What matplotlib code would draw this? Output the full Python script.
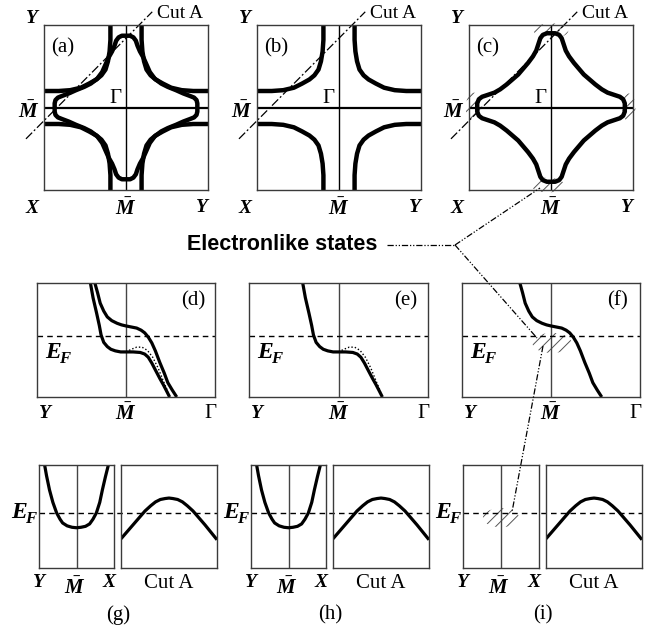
import numpy as np
import matplotlib
matplotlib.use('Agg')
import matplotlib.pyplot as plt
from matplotlib.patches import Ellipse

plt.rcParams['mathtext.fontset'] = 'custom'
plt.rcParams['mathtext.rm'] = 'Liberation Serif'
plt.rcParams['mathtext.it'] = 'Liberation Serif:italic'
plt.rcParams['mathtext.bf'] = 'Liberation Serif:bold:italic'
plt.rcParams['hatch.linewidth'] = 0.7

W, H = 664, 633

# ---------------- data ----------------
# Fermi surface "star", first quadrant from top tip to right tip (kx, ky)
star_a_x = [0.00, 0.05, 0.09, 0.12, 0.14, 0.17, 0.21, 0.25, 0.29, 0.35, 0.43, 0.51, 0.61, 0.70, 0.78, 0.83, 0.86, 0.87, 0.87]
star_a_y = [0.87, 0.87, 0.85, 0.81, 0.75, 0.68, 0.61, 0.52, 0.43, 0.35, 0.29, 0.25, 0.21, 0.17, 0.14, 0.12, 0.09, 0.05, 0.00]
star_c_x = [0.00, 0.05, 0.10, 0.13, 0.15, 0.18, 0.22, 0.28, 0.34, 0.40, 0.47, 0.54, 0.62, 0.69, 0.78, 0.84, 0.88, 0.90, 0.90]
star_c_y = [0.90, 0.90, 0.88, 0.84, 0.78, 0.69, 0.62, 0.54, 0.47, 0.40, 0.34, 0.28, 0.22, 0.18, 0.15, 0.13, 0.10, 0.05, 0.00]
# open "hyperbolic" Fermi-surface sheet, first quadrant
hyper_x = [0.19, 0.19, 0.20, 0.22, 0.25, 0.30, 0.36, 0.45, 0.55, 0.68, 0.82, 1.00]
hyper_y = [1.00, 0.82, 0.68, 0.56, 0.46, 0.39, 0.34, 0.29, 0.24, 0.21, 0.20, 0.20]
# Cut A in the Brillouin zone
cut_a_kx = [-1.22, 0.32]
cut_a_ky = [-0.38, 1.16]
# Y - M - Gamma dispersions (k, E) with E_F = 0
band_upper_k = [-0.35, -0.32, -0.29, -0.25, -0.21, -0.16, -0.10, -0.05, 0.00, 0.06, 0.12, 0.17, 0.21, 0.25, 0.29, 0.33, 0.38, 0.43, 0.47, 0.52, 0.57]
band_upper_e = [1.00, 0.82, 0.62, 0.47, 0.36, 0.29, 0.24, 0.21, 0.19, 0.17, 0.15, 0.11, 0.06, -0.02, -0.13, -0.28, -0.50, -0.70, -0.88, -1.02, -1.15]
band_lower_k = [-0.40, -0.37, -0.33, -0.30, -0.28, -0.25, -0.21, -0.17, -0.12, -0.06, 0.00, 0.08, 0.16, 0.21, 0.25, 0.29, 0.33, 0.38, 0.42, 0.46, 0.49]
band_lower_e = [1.00, 0.72, 0.43, 0.20, 0.02, -0.12, -0.20, -0.25, -0.28, -0.30, -0.30, -0.30, -0.31, -0.34, -0.40, -0.51, -0.64, -0.80, -0.92, -1.05, -1.15]
band_dot_k = [0.00, 0.06, 0.12, 0.18, 0.24, 0.30, 0.36, 0.42, 0.47]
band_dot_e = [-0.30, -0.25, -0.21, -0.21, -0.27, -0.40, -0.60, -0.85, -1.05]
# Y - M - X dispersion
ymx_k = [-0.85, -0.80, -0.72, -0.63, -0.53, -0.44, -0.37, -0.25, -0.12, 0.00, 0.12, 0.24, 0.35, 0.44, 0.53, 0.62, 0.69, 0.77, 0.85]
ymx_e = [1.00, 0.78, 0.48, 0.22, 0.00, -0.13, -0.21, -0.27, -0.30, -0.31, -0.30, -0.28, -0.23, -0.13, 0.00, 0.22, 0.48, 0.75, 1.00]
# Cut A dispersion
cut_k = [-1.00, -0.75, -0.50, -0.38, -0.28, -0.18, -0.08, 0.00, 0.08, 0.18, 0.28, 0.38, 0.50, 0.75, 1.00]
cut_e = [-0.54, -0.25, 0.04, 0.15, 0.23, 0.28, 0.30, 0.31, 0.30, 0.28, 0.23, 0.15, 0.04, -0.25, -0.56]

# ---------------- helpers ----------------
fig = plt.figure(figsize=(W / 100, H / 100), dpi=100)
fig.patch.set_facecolor('white')

FRAME = '#3a3a3a'
SERIF = 'Liberation Serif'


def px_axes(x0, y0, x1, y1, xlim=(-1, 1), ylim=(-1, 1)):
    ax = fig.add_axes([x0 / W, 1 - y1 / H, (x1 - x0) / W, (y1 - y0) / H])
    ax.set_xlim(*xlim)
    ax.set_ylim(*ylim)
    ax.set_xticks([])
    ax.set_yticks([])
    for s in ax.spines.values():
        s.set_color(FRAME)
        s.set_linewidth(1.0)
    ax.patch.set_alpha(0)
    return ax


def closed_star(qx, qy):
    qx = np.asarray(qx); qy = np.asarray(qy)
    x = np.concatenate([qx, qx[::-1], -qx, -qx[::-1]])
    y = np.concatenate([qy, -qy[::-1], -qy, qy[::-1]])
    return x, y


def hatch_patch(ax, cx, cy, w, h):
    e = Ellipse((cx, cy), w, h, fill=False, hatch='///', edgecolor='#555555',
                linewidth=0, clip_on=False)
    ax.add_patch(e)


THICK = dict(color='black', lw=3.2, solid_capstyle='butt', solid_joinstyle='round')
MID = dict(color='black', lw=2.3, solid_capstyle='butt', solid_joinstyle='round')
CUT_STYLE = dict(color='black', lw=0.9, ls=(0, (7, 2, 1.5, 2)), clip_on=False)

# overlay axes in pixel coordinates for labels and connectors
ov = fig.add_axes([0, 0, 1, 1], zorder=10)
ov.set_xlim(0, W)
ov.set_ylim(H, 0)
ov.axis('off')
ov.patch.set_alpha(0)

bi = dict(family=SERIF, fontsize=14, fontweight='bold', fontstyle='italic')
rm = dict(family=SERIF, fontsize=15)
MBAR = r'$\mathbf{\bar{M}}$'


def ef_label(x_left, baseline, big=17, small=12, drop=5):
    ov.text(x_left, baseline, 'E', ha='left', va='baseline', family=SERIF,
            fontsize=big, fontweight='bold', fontstyle='italic')
    ov.text(x_left + big * 0.85, baseline + drop, 'F', ha='left', va='baseline',
            family=SERIF, fontsize=small, fontweight='bold', fontstyle='italic')


# ---------------- top row: Fermi surfaces ----------------
top_boxes = [(44, 25, 208, 190), (257, 25, 421, 190), (469, 25, 633, 190)]
top_labels = ['(a)', '(b)', '(c)']
for i, (x0, y0, x1, y1) in enumerate(top_boxes):
    ax = px_axes(x0, y0, x1, y1)
    ax.axhline(0, color='black', lw=1.6)
    ax.axvline(0, color='black', lw=1.0)
    if i == 0:
        sx, sy = closed_star(star_a_x, star_a_y)
        ax.plot(sx, sy, **THICK)
    if i == 2:
        sx, sy = closed_star(star_c_x, star_c_y)
        ax.plot(sx, sy, **THICK)
    if i in (0, 1):
        hx = np.asarray(hyper_x); hy = np.asarray(hyper_y)
        for mx in (1, -1):
            for my in (1, -1):
                ax.plot(mx * hx, my * hy, **THICK)
    ax.plot(cut_a_kx, cut_a_ky, **CUT_STYLE)
    if i == 2:
        hatch_patch(ax, 0.0, 0.93, 0.42, 0.18)
        hatch_patch(ax, -0.94, 0.0, 0.20, 0.36)
        hatch_patch(ax, 0.95, 0.0, 0.16, 0.34)
        hatch_patch(ax, -0.04, -0.94, 0.40, 0.18)
    cx = (x0 + x1) / 2
    ov.text(x0 - 12, 23, 'Y', ha='center', va='baseline', **bi)
    ov.text(x0 - 12, 213, 'X', ha='center', va='baseline', **bi)
    ov.text(x1 - 6, 212, 'Y', ha='center', va='baseline', **bi)
    ov.text(cx, 215, MBAR, ha='center', va='baseline', fontsize=15)
    ov.text(x0 - 15, 118, MBAR, ha='center', va='baseline', fontsize=15)
    ov.text(x0 + 71, 103, 'Γ', ha='center', va='baseline', **rm)
    ov.text(x0 + 19, 48, top_labels[i], ha='center', va='center', **rm)
    ov.text(x0 + 136, 18, 'Cut A', ha='center', va='baseline', family=SERIF, fontsize=14)

# ---------------- middle row: Y-M-Gamma bands ----------------
mid_boxes = [(37, 283, 215, 397), (249, 283, 428, 397), (462, 283, 640, 397)]
mid_labels = ['(d)', '(e)', '(f)']
for i, (x0, y0, x1, y1) in enumerate(mid_boxes):
    ax = px_axes(x0, y0, x1, y1, ylim=(-1.15, 1.0))
    ax.axvline(0, color='#444444', lw=1.0)
    ax.axhline(0, color='black', lw=1.0, ls=(0, (4, 3)))
    if i == 0:
        ax.plot(band_upper_k, band_upper_e, **MID)
        ax.plot(band_lower_k, band_lower_e, **MID)
        ax.plot(band_dot_k, band_dot_e, color='black', lw=1.0, ls=(0, (1, 1.5)))
    elif i == 1:
        ax.plot(band_lower_k, band_lower_e, **MID)
        ax.plot(band_dot_k, band_dot_e, color='black', lw=1.0, ls=(0, (1, 1.5)))
    else:
        ax.plot(band_upper_k, band_upper_e, **MID)
        hatch_patch(ax, 0.01, -0.13, 0.44, 0.38)
    cx = (x0 + x1) / 2
    ov.text(x0 + 8, 418, 'Y', ha='center', va='baseline', **bi)
    ov.text(cx, 420, MBAR, ha='center', va='baseline', fontsize=15)
    ov.text(x1 - 5, 418, 'Γ', ha='center', va='baseline', **rm)
    ov.text(x1 - 22, 301, mid_labels[i], ha='center', va='center', **rm)
    ef_label(x0 + 8, 358)

# ---------------- bottom row: Y-M-X and Cut A ----------------
bot_left = [(39, 465, 114, 568), (251, 465, 326, 568), (463, 465, 539, 568)]
bot_right = [(121, 465, 217, 568), (333, 465, 429, 568), (546, 465, 642, 568)]
bot_labels = ['(g)', '(h)', '(i)']
for i in range(3):
    lx0, ly0, lx1, ly1 = bot_left[i]
    rx0, ry0, rx1, ry1 = bot_right[i]
    axl = px_axes(lx0, ly0, lx1, ly1, ylim=(-1.15, 1.0))
    axr = px_axes(rx0, ry0, rx1, ry1, ylim=(-1.15, 1.0))
    axl.axvline(0, color='#444444', lw=1.0)
    # E_F dashed line across both boxes
    x_end = -1 + 2 * (rx1 - lx0) / (lx1 - lx0)
    axl.plot([-1, x_end], [0, 0], color='black', lw=1.0, ls=(0, (4, 3)), clip_on=False)
    if i < 2:
        axl.plot(ymx_k, ymx_e, **MID)
    else:
        hatch_patch(axl, 0.0, -0.1, 0.95, 0.40)
    axr.plot(cut_k, cut_e, **MID)
    lc = (lx0 + lx1) / 2
    ef_label(lx0 - 28, 518)
    ov.text(lx0, 587, 'Y', ha='center', va='baseline', **bi)
    ov.text(lc - 2, 594, MBAR, ha='center', va='baseline', fontsize=15)
    ov.text(lx1 - 5, 587, 'X', ha='center', va='baseline', **bi)
    ov.text((rx0 + rx1) / 2, 588, 'Cut A', ha='center', va='baseline', family=SERIF, fontsize=15)
    ov.text((lx0 + rx1) / 2 - 10, 615, bot_labels[i], ha='center', va='center', **rm)

# ---------------- "Electronlike states" connectors ----------------
ov.text(377, 245, 'Electronlike states', ha='right', va='center',
        family='Liberation Sans', fontweight='bold', fontsize=15.5)
CONN = dict(color='black', lw=0.9, ls=(0, (5, 1.5, 1, 1.5, 1, 1.5)))
ov.plot([387, 455], [245, 245], **CONN)
ov.plot([455, 540], [245, 188], **CONN)
ov.plot([455, 537], [245, 338], **CONN)
ov.plot([543, 512], [346, 512], **CONN)

fig.savefig('out.png', dpi=100, facecolor='white')
